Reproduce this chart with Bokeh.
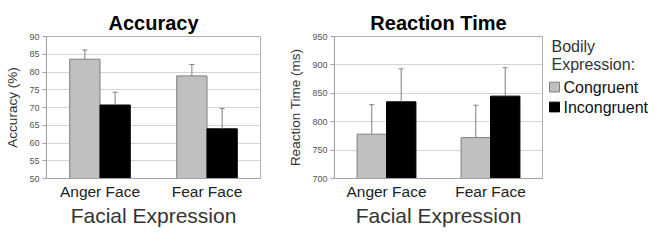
from bokeh.plotting import figure
from bokeh.layouts import row
from bokeh.models import ColumnDataSource, FactorRange, Range1d, FixedTicker
from bokeh.transform import dodge
from bokeh.core.properties import value
from bokeh.embed import file_html
from bokeh.resources import INLINE

# ---- data ----
faces = ["Anger Face", "Fear Face"]
acc_congruent = [83.6, 78.9]
acc_congruent_err = [2.6, 3.2]
acc_incongruent = [70.7, 64.0]
acc_incongruent_err = [3.6, 5.7]
rt_congruent = [778, 772]
rt_congruent_err = [52, 57]
rt_incongruent = [835, 845]
rt_incongruent_err = [58, 50]
acc_ticks = [50, 55, 60, 65, 70, 75, 80, 85, 90]
rt_ticks = [700, 750, 800, 850, 900, 950]
legend_title = ["Bodily", "Expression:"]
legend_labels = ["Congruent", "Incongruent"]

FONT = "Liberation Sans"
GRAY_FILL = "#c0c0c0"
GRAY_LINE = "#7f7f7f"
BAR_W = 0.283
OFF = BAR_W / 2
FRAME_TOP = 36
FRAME_BOTTOM = 182


def make_panel(title, ylabel, cong, cong_err, inc, inc_err, ymin, ymax, ticks,
               width, border_left, border_right):
    src = ColumnDataSource(dict(
        face=faces,
        cong=cong, cong_top=[v + e for v, e in zip(cong, cong_err)],
        inc=inc, inc_top=[v + e for v, e in zip(inc, inc_err)],
    ))
    p = figure(x_range=FactorRange(*faces), y_range=Range1d(ymin, ymax),
               width=width, height=229, output_backend="svg",
               toolbar_location=None, title=title,
               min_border_left=border_left, min_border_right=border_right,
               min_border_top=FRAME_TOP, min_border_bottom=0)
    p.title.align = "center"
    p.title.text_font = FONT
    p.title.text_font_size = "20px"
    p.title.text_font_style = "bold"
    p.title.text_color = "#000000"
    p.title.standoff = 6

    # bars
    p.vbar(x=dodge("face", -OFF, range=p.x_range), top="cong", bottom=ymin,
           width=BAR_W, source=src, fill_color=GRAY_FILL, line_color=GRAY_LINE,
           line_width=1)
    p.vbar(x=dodge("face", OFF, range=p.x_range), top="inc", bottom=ymin,
           width=BAR_W, source=src, fill_color="#000000", line_color="#000000",
           line_width=1)
    # error bars (upper half only)
    for val, top, off in (("cong", "cong_top", -OFF), ("inc", "inc_top", OFF)):
        xs = dodge("face", off, range=p.x_range)
        p.segment(x0=xs, y0=val, x1=xs, y1=top, source=src,
                  line_color=GRAY_LINE, line_width=1)
        p.scatter(x=xs, y=top, source=src, marker="dash", size=5,
                  line_color=GRAY_LINE, line_width=1)

    p.outline_line_color = "#b0b0b0"
    p.xgrid.grid_line_color = None
    p.ygrid.grid_line_color = "#d4d4d4"
    p.ygrid.ticker = FixedTicker(ticks=ticks)

    ya = p.yaxis[0]
    ya.ticker = FixedTicker(ticks=ticks, minor_ticks=[])
    ya.axis_label = ylabel
    ya.axis_label_text_font = FONT
    ya.axis_label_text_font_size = "13.5px"
    ya.axis_label_text_font_style = "normal"
    ya.axis_label_text_color = "#333333"
    ya.axis_label_standoff = 6
    ya.major_label_text_font = FONT
    ya.major_label_text_font_size = "9px"
    ya.major_label_text_color = "#555555"
    ya.major_label_standoff = 3
    ya.axis_line_color = "#a0a0a0"
    ya.major_tick_line_color = "#a0a0a0"
    ya.major_tick_out = 4
    ya.major_tick_in = 0
    ya.minor_tick_line_color = None

    xa = p.xaxis[0]
    xa.axis_label = "Facial Expression"
    xa.axis_label_text_font = FONT
    xa.axis_label_text_font_size = "21px"
    xa.axis_label_text_font_style = "normal"
    xa.axis_label_text_color = "#333333"
    xa.axis_label_standoff = 1
    xa.major_label_text_font = FONT
    xa.major_label_text_font_size = "15.5px"
    xa.major_label_text_color = "#222222"
    xa.major_label_standoff = 4
    xa.axis_line_color = "#a0a0a0"
    xa.major_tick_line_color = None
    xa.major_tick_out = 0
    xa.major_tick_in = 0
    xa.minor_tick_line_color = None
    return p


p1 = make_panel("Accuracy", "Accuracy (%)", acc_congruent, acc_congruent_err,
                acc_incongruent, acc_incongruent_err, 50, 90, acc_ticks,
                width=272, border_left=46, border_right=12)
p2 = make_panel("Reaction Time", "Reaction Time (ms)", rt_congruent, rt_congruent_err,
                rt_incongruent, rt_incongruent_err, 700, 950, rt_ticks,
                width=276, border_left=62, border_right=6)

# legend panel: its frame is aligned with the chart frames; pixel-like coords, y downward
p3 = figure(width=102, height=229, x_range=Range1d(0, 102),
            y_range=Range1d(FRAME_BOTTOM, FRAME_TOP),
            output_backend="svg", toolbar_location=None,
            min_border=0, min_border_left=0, min_border_right=0,
            min_border_top=FRAME_TOP, min_border_bottom=0)
p3.axis.visible = False
p3.grid.visible = False
p3.outline_line_color = None

title_src = ColumnDataSource(dict(x=[3, 3], y=[46, 65], text=legend_title))
p3.text(x="x", y="y", text="text", source=title_src, text_font=value(FONT),
        text_font_size="16px", text_baseline="middle", text_align="left",
        text_color="#333333")
item_src = ColumnDataSource(dict(x=[15, 15], y=[88, 108.5], text=legend_labels,
                                 sx=[6, 6], fill=[GRAY_FILL, "#000000"],
                                 line=[GRAY_LINE, "#000000"]))
p3.rect(x="sx", y="y", width=10, height=10, source=item_src,
        fill_color="fill", line_color="line")
p3.text(x="x", y="y", text="text", source=item_src, text_font=value(FONT),
        text_font_size="16px", text_baseline="middle", text_align="left",
        text_color="#111111")

layout = row(p1, p2, p3)
open("out.html", "w").write(file_html(layout, INLINE))
